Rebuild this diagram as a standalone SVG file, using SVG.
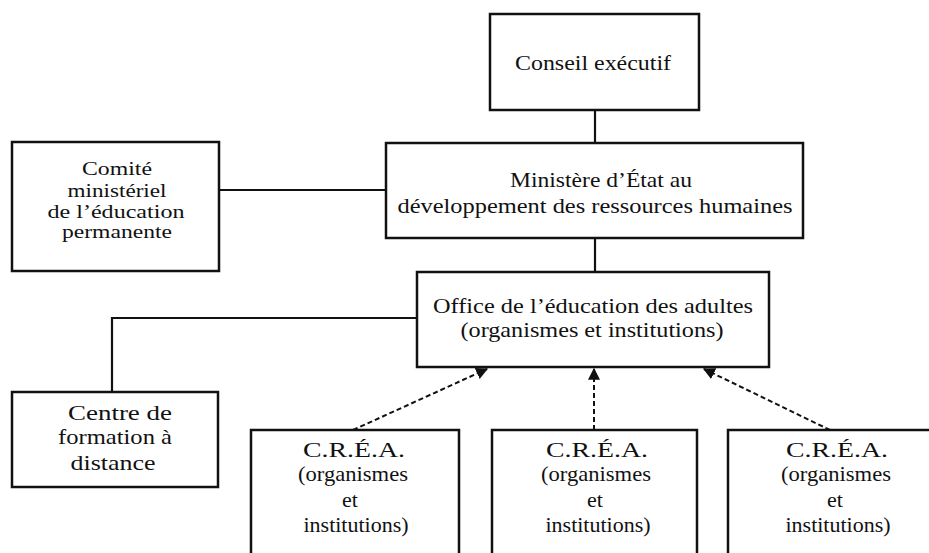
<svg xmlns="http://www.w3.org/2000/svg" width="929" height="553" viewBox="0 0 929 553">
<style>
.box{fill:#fff;stroke:#111;stroke-width:2.5}
.t{font-family:"Liberation Serif","Times New Roman",serif;font-size:22px;fill:#111;text-anchor:middle}
.s{font-size:18.5px}
.ln{fill:none;stroke:#111;stroke-width:2.2}
.da{fill:none;stroke:#111;stroke-width:2;stroke-dasharray:5,3}
</style>
<defs>
<marker id="ah" viewBox="0 0 10 10" refX="9" refY="5" markerWidth="6" markerHeight="6" orient="auto" markerUnits="strokeWidth">
<path d="M0,0 L10,5 L0,10 z" fill="#111"/>
</marker>
</defs>
<rect width="929" height="553" fill="#fff"/>
<g id="connectors">
<line class="ln" x1="595" y1="110" x2="595" y2="143"/>
<line class="ln" x1="219" y1="190" x2="386" y2="190"/>
<line class="ln" x1="595" y1="238" x2="595" y2="272"/>
<polyline class="ln" points="417,318 112,318 112,392"/>
<line class="da" x1="353" y1="430" x2="487" y2="369" marker-end="url(#ah)"/>
<line class="da" x1="594" y1="430" x2="594" y2="369" marker-end="url(#ah)"/>
<line class="da" x1="830" y1="430" x2="704" y2="369" marker-end="url(#ah)"/>
</g>
<g id="conseil">
<rect class="box" x="490" y="14" width="209" height="96"/>
<text class="t" x="593" y="70" textLength="156" lengthAdjust="spacingAndGlyphs">Conseil exécutif</text>
</g>
<g id="comite">
<rect class="box" x="12" y="142" width="207" height="129"/>
<text class="t s" x="117" y="175" textLength="70" lengthAdjust="spacingAndGlyphs">Comité</text>
<text class="t s" x="117" y="197" textLength="99" lengthAdjust="spacingAndGlyphs">ministériel</text>
<text class="t s" x="116" y="218" textLength="137" lengthAdjust="spacingAndGlyphs">de l’éducation</text>
<text class="t s" x="117" y="238" textLength="110" lengthAdjust="spacingAndGlyphs">permanente</text>
</g>
<g id="ministere">
<rect class="box" x="386" y="143" width="417" height="95"/>
<text class="t" x="601" y="187" textLength="182" lengthAdjust="spacingAndGlyphs">Ministère d’État au</text>
<text class="t" x="595" y="213" textLength="395" lengthAdjust="spacingAndGlyphs">développement des ressources humaines</text>
</g>
<g id="office">
<rect class="box" x="417" y="272" width="352" height="95"/>
<text class="t" x="593" y="313" textLength="320" lengthAdjust="spacingAndGlyphs">Office de l’éducation des adultes</text>
<text class="t" x="592" y="337" textLength="263" lengthAdjust="spacingAndGlyphs">(organismes et institutions)</text>
</g>
<g id="centre">
<rect class="box" x="12" y="392" width="206" height="95"/>
<text class="t" x="120" y="420" textLength="104" lengthAdjust="spacingAndGlyphs">Centre de</text>
<text class="t" x="115" y="444" textLength="114" lengthAdjust="spacingAndGlyphs">formation à</text>
<text class="t" x="113" y="470" textLength="85" lengthAdjust="spacingAndGlyphs">distance</text>
</g>
<g id="crea1">
<rect class="box" x="251" y="430" width="208" height="140"/>
<text class="t" x="354" y="457" textLength="102" lengthAdjust="spacingAndGlyphs">C.R.É.A.</text>
<text class="t" x="353" y="481" textLength="110" lengthAdjust="spacingAndGlyphs">(organismes</text>
<text class="t" x="350" y="507">et</text>
<text class="t" x="356" y="532" textLength="105" lengthAdjust="spacingAndGlyphs">institutions)</text>
</g>
<g id="crea2">
<rect class="box" x="492" y="430" width="205" height="140"/>
<text class="t" x="597" y="457" textLength="102" lengthAdjust="spacingAndGlyphs">C.R.É.A.</text>
<text class="t" x="596" y="481" textLength="110" lengthAdjust="spacingAndGlyphs">(organismes</text>
<text class="t" x="595" y="507">et</text>
<text class="t" x="598" y="532" textLength="105" lengthAdjust="spacingAndGlyphs">institutions)</text>
</g>
<g id="crea3">
<rect class="box" x="728" y="430" width="220" height="140"/>
<text class="t" x="837" y="457" textLength="102" lengthAdjust="spacingAndGlyphs">C.R.É.A.</text>
<text class="t" x="836" y="481" textLength="110" lengthAdjust="spacingAndGlyphs">(organismes</text>
<text class="t" x="835" y="507">et</text>
<text class="t" x="838" y="532" textLength="105" lengthAdjust="spacingAndGlyphs">institutions)</text>
</g>
</svg>
